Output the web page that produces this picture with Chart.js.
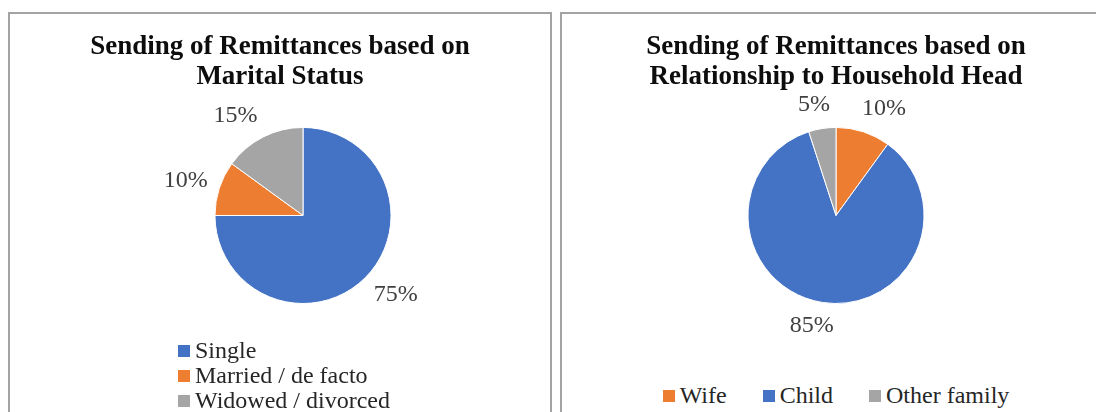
<!DOCTYPE html>
<html>
<head>
<meta charset="utf-8">
<script src="https://cdn.jsdelivr.net/npm/chart.js@4.4.0/dist/chart.umd.min.js"></script>
<style>
body { margin:0; background:#fff; width:1096px; height:412px; overflow:hidden; position:relative; font-family:"Liberation Serif", "Times New Roman", serif; }
.panel { position:absolute; top:12px; height:420px; border:2px solid #a3a3a3; box-sizing:border-box; background:#fff; }
#p1 { left:8px; width:544px; }
#p2 { left:560px; width:552px; }
.wrap { position:absolute; left:0; top:0; width:100%; height:340px; }
.legend { position:absolute; margin:0; padding:0; list-style:none; font-size:24px; color:#262626; }
.legend li { display:flex; align-items:center; height:25px; white-space:nowrap; }
.legend .box { width:12px; height:12px; margin-right:5px; display:inline-block; }
#lg1 { left:168px; top:324px; }
#lg2 { left:0; right:0; top:369px; display:flex; justify-content:center; gap:36px; }
</style>
</head>
<body>
<div class="panel" id="p1">
  <div class="wrap"><canvas id="c1"></canvas></div>
  <ul class="legend" id="lg1"></ul>
</div>
<div class="panel" id="p2">
  <div class="wrap"><canvas id="c2"></canvas></div>
  <ul class="legend" id="lg2"></ul>
</div>
<script>
// data
var maritalLabels = ['Single', 'Married / de facto', 'Widowed / divorced'];
var maritalValues = [75, 10, 15];
var relationLabels = ['Wife', 'Child', 'Other family'];
var relationValues = [10, 85, 5];

var blue = '#4472C4', orange = '#ED7D31', grey = '#A5A5A5';

Chart.defaults.font.family = '"Liberation Serif", "Times New Roman", serif';

// move pie sideways inside the chart area (title stays centred)
var shiftPie = {
	id: 'shiftPie',
	afterLayout: function(chart, args, opts) {
		var dx = opts.dx || 0;
		chart.chartArea.left += dx;
		chart.chartArea.right += dx;
	}
};

// percent labels outside each slice
var outLabels = {
	id: 'outLabels',
	afterDatasetsDraw: function(chart, args, opts) {
		var ctx = chart.ctx;
		var meta = chart.getDatasetMeta(0);
		var data = chart.data.datasets[0].data;
		ctx.save();
		ctx.font = opts.size + 'px "Liberation Serif", "Times New Roman", serif';
		ctx.fillStyle = '#404040';
		ctx.textAlign = 'center';
		ctx.textBaseline = 'middle';
		meta.data.forEach(function(arc, i) {
			var p = arc.getProps(['x', 'y', 'startAngle', 'endAngle', 'outerRadius'], true);
			var mid = (p.startAngle + p.endAngle) / 2;
			var cx = Math.cos(mid), cy = Math.sin(mid);
			var txt = data[i] + '%';
			var w = ctx.measureText(txt).width;
			var h = opts.size;
			var px = p.x + cx * (p.outerRadius + opts.gap);
			var py = p.y + cy * (p.outerRadius + opts.gap);
			px += Math.sign(cx) * (w / 2) * Math.min(1, Math.abs(cx) * 2.5);
			py += cy * h / 2;
			ctx.fillText(txt, px, py);
		});
		ctx.restore();
	}
};

// html legend built from the chart's own legend items
var htmlLegend = {
	id: 'htmlLegend',
	afterUpdate: function(chart, args, opts) {
		var ul = document.getElementById(opts.id);
		ul.innerHTML = '';
		var items = chart.options.plugins.legend.labels.generateLabels(chart);
		items.forEach(function(item) {
			var li = document.createElement('li');
			var box = document.createElement('span');
			box.className = 'box';
			box.style.background = item.fillStyle;
			li.appendChild(box);
			li.appendChild(document.createTextNode(item.text));
			ul.appendChild(li);
		});
	}
};

function makeConfig(labels, values, colors, title, legendId, dx) {
	return {
		type: 'pie',
		data: {
			labels: labels,
			datasets: [{
				data: values,
				backgroundColor: colors,
				borderColor: '#fff',
				borderWidth: 1
			}]
		},
		options: {
			responsive: true,
			maintainAspectRatio: false,
			animation: false,
			layout: { padding: { bottom: 50 } },
			plugins: {
				legend: { display: false },
				tooltip: { enabled: false },
				title: {
					display: true,
					text: title,
					color: '#0d0d0d',
					font: { size: 27, weight: 'bold', lineHeight: 1.11 },
					padding: { top: 18, bottom: 35 }
				},
				htmlLegend: { id: legendId },
				shiftPie: { dx: dx },
				outLabels: { size: 24, gap: 12 }
			}
		},
		plugins: [shiftPie, outLabels, htmlLegend]
	};
}

new Chart(document.getElementById('c1'), makeConfig(maritalLabels, maritalValues, [blue, orange, grey],
	['Sending of Remittances based on', 'Marital Status'], 'lg1', 23));
new Chart(document.getElementById('c2'), makeConfig(relationLabels, relationValues, [orange, blue, grey],
	['Sending of Remittances based on', 'Relationship to Household Head'], 'lg2', 0));
</script>
</body>
</html>
